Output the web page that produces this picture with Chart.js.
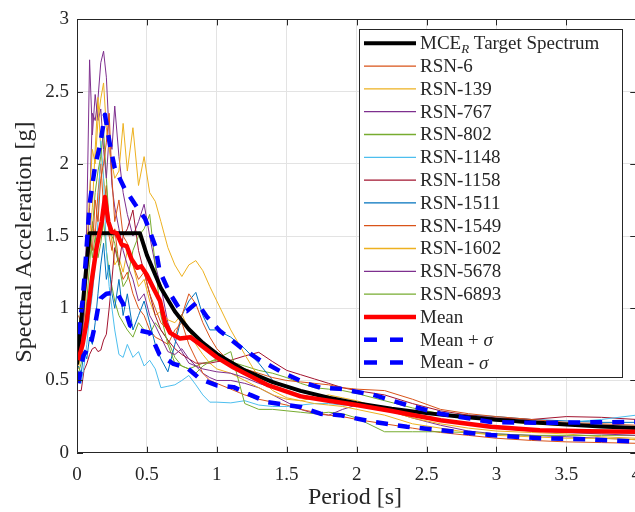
<!DOCTYPE html>
<html><head><meta charset="utf-8">
<script src="https://cdn.jsdelivr.net/npm/chart.js@4/dist/chart.umd.min.js"></script>
<style>html,body{margin:0;padding:0;overflow:hidden;background:#fff}</style>
</head><body>
<canvas id="c" width="652" height="512"></canvas>
<script>
// ---------- DATA ----------
const periods = [0.01,0.03,0.05,0.07,0.09,0.11,0.13,0.15,0.17,0.19,
  0.21,0.23,0.25,0.27,0.30,0.33,0.36,0.40,0.44,0.48,
  0.52,0.56,0.60,0.65,0.70,0.75,0.80,0.85,0.90,0.95,
  1.0,1.1,1.2,1.3,1.4,1.5,1.6,1.7,1.8,1.9,
  2.0,2.2,2.4,2.6,2.8,3.0,3.25,3.5,3.75,4.0];

const rsn6 = [0.95,0.9,1.1,1.3,1.5,1.4,1.75,1.6,1.9,2.0, 2.15,2.35,1.9,1.6,1.75,1.5,1.45,1.3,1.2,1.25, 1.1,1.0,0.9,0.85,0.8,0.95,1.1,1.03,0.9,0.8, 0.72,0.62,0.58,0.55,0.52,0.5,0.49,0.48,0.47,0.45, 0.44,0.43,0.37,0.3,0.27,0.25,0.23,0.21,0.2,0.19];
const rsn139 = [0.8,0.9,1.1,1.4,1.8,2.1,2.0,2.3,2.45,2.56, 2.25,2.1,2.0,1.9,1.95,2.28,1.95,2.25,1.85,2.05, 1.8,1.74,1.6,1.42,1.3,1.22,1.3,1.33,1.26,1.15, 1.05,0.85,0.68,0.52,0.43,0.38,0.36,0.34,0.33,0.32, 0.3,0.26,0.2,0.17,0.14,0.12,0.11,0.1,0.1,0.09];
const rsn767 = [0.62,0.75,0.95,1.6,2.72,2.2,2.48,2.3,2.38,2.1, 1.9,2.2,1.85,1.7,1.55,1.4,1.3,1.2,1.05,1.1, 0.95,0.88,0.8,0.7,0.68,0.72,0.65,0.6,0.58,0.57, 0.56,0.55,0.52,0.48,0.45,0.42,0.4,0.38,0.36,0.35, 0.34,0.3,0.26,0.22,0.2,0.17,0.15,0.14,0.13,0.12];
const rsn802 = [0.55,0.62,0.8,1.05,1.3,1.55,1.8,1.95,2.05,2.23, 1.9,1.6,1.5,1.45,1.3,1.15,1.2,1.4,1.5,1.55, 1.65,1.3,0.95,0.75,0.62,0.6,0.58,0.55,0.6,0.63, 0.65,0.7,0.34,0.3,0.3,0.29,0.28,0.27,0.28,0.27, 0.24,0.145,0.145,0.145,0.14,0.13,0.12,0.12,0.12,0.12];
const rsn1148 = [0.5,0.48,0.6,0.75,0.95,1.1,1.3,1.6,2.16,1.9, 1.4,1.15,1.0,0.85,0.68,0.66,0.75,0.66,0.7,0.6, 0.64,0.58,0.45,0.46,0.47,0.5,0.535,0.47,0.4,0.35, 0.35,0.345,0.36,0.33,0.32,0.32,0.33,0.34,0.34,0.33, 0.33,0.31,0.28,0.26,0.24,0.22,0.21,0.21,0.23,0.26];
const rsn1158 = [0.43,0.43,0.57,0.615,0.68,0.72,0.73,0.7,0.71,0.78, 0.82,1.0,1.2,1.42,1.3,1.5,1.55,1.68,1.4,1.25, 1.1,0.95,0.85,0.78,0.72,0.68,0.65,0.62,0.62,0.62, 0.63,0.64,0.67,0.695,0.63,0.57,0.54,0.51,0.48,0.45, 0.43,0.4,0.34,0.29,0.26,0.24,0.23,0.25,0.245,0.23];
const rsn1511 = [0.6,0.55,0.7,0.65,0.8,0.75,0.9,1.1,1.3,1.45, 1.2,1.3,1.1,1.0,1.2,0.95,1.1,0.85,0.95,1.05, 0.9,0.75,0.65,0.56,0.75,0.95,1.05,1.11,0.95,0.85, 0.85,0.8,0.72,0.62,0.5,0.45,0.42,0.4,0.37,0.35, 0.33,0.3,0.28,0.27,0.26,0.25,0.23,0.22,0.21,0.21];
const rsn1549 = [0.75,0.85,1.05,1.2,1.4,1.6,1.5,1.8,2.0,1.7, 1.85,1.5,1.4,1.55,1.3,1.2,1.25,1.1,1.0,0.95, 0.85,0.8,0.78,0.75,0.85,0.9,0.75,0.65,0.55,0.5, 0.48,0.44,0.4,0.37,0.35,0.33,0.3,0.28,0.26,0.25, 0.23,0.2,0.17,0.14,0.12,0.1,0.085,0.075,0.07,0.065];
const rsn1602 = [0.58,0.7,0.9,1.2,1.5,1.7,2.1,2.46,2.1,1.9, 1.75,1.6,1.45,1.3,1.35,1.25,1.4,1.3,1.15,1.2, 1.05,0.95,0.98,0.92,0.9,0.96,0.85,0.75,0.68,0.62, 0.58,0.55,0.5,0.45,0.4,0.37,0.36,0.38,0.4,0.38, 0.36,0.3,0.24,0.2,0.17,0.15,0.14,0.13,0.11,0.1];
const rsn5678 = [0.7,0.8,1.0,1.3,1.7,2.35,2.3,2.45,2.7,2.78, 2.6,2.2,2.1,2.4,2.05,1.8,1.65,1.5,1.6,1.72, 1.5,1.3,1.15,0.9,0.78,0.7,0.62,0.6,0.55,0.52, 0.5,0.5,0.48,0.45,0.4,0.35,0.3,0.27,0.26,0.3, 0.33,0.3,0.24,0.19,0.15,0.13,0.12,0.11,0.1,0.09];
const rsn6893 = [0.7,0.8,1.0,1.3,1.5,1.35,1.5,1.35,1.45,1.6, 1.4,1.25,1.15,1.05,0.95,0.9,0.85,0.8,0.9,0.85, 0.82,0.9,0.85,0.78,0.66,0.6,0.58,0.6,0.62,0.63, 0.64,0.63,0.6,0.57,0.55,0.52,0.48,0.45,0.44,0.43, 0.41,0.36,0.31,0.27,0.24,0.22,0.2,0.19,0.18,0.18];

const targetPeriods = [0,0.09,0.45,0.5,0.6,0.7,0.8,0.9,1.0,1.2,1.4,1.6,1.8,2.0,2.25,2.5,2.75,3.0,3.25,3.5,3.75,4.0];
const targetSa = [0.61,1.52,1.52,1.368,1.14,0.977,0.855,0.76,0.684,0.57,0.489,0.428,0.38,0.342,0.304,0.274,0.249,0.228,0.21,0.195,0.182,0.171];

const meanPeriods = [0.01,0.04,0.07,0.105,0.14,0.177,0.2,0.224,0.248,0.284,0.32,0.356,0.39,0.43,0.46,0.5,0.546,0.594,0.63,0.666,0.737,0.81,0.88,1.0,1.12,1.36,1.6,1.8,2.0,2.24,2.6,2.96,3.31,3.65,4.0];
const meanSa = [0.64,0.75,0.91,1.19,1.42,1.60,1.77,1.60,1.53,1.52,1.44,1.43,1.34,1.28,1.29,1.23,1.14,1.05,0.90,0.83,0.79,0.80,0.75,0.66,0.59,0.47,0.39,0.36,0.33,0.29,0.225,0.18,0.156,0.148,0.145];

const upperPeriods = [0.01,0.04,0.06,0.08,0.093,0.13,0.165,0.2,0.236,0.27,0.34,0.415,0.487,0.56,0.59,0.666,0.737,0.785,0.857,0.93,1.02,1.17,1.31,1.48,1.64,1.74,1.88,2.12,2.36,2.6,2.96,3.31,3.65,4.0];
const upperSa = [0.82,1.05,1.3,1.58,1.74,1.99,2.13,2.34,2.13,1.97,1.83,1.72,1.62,1.43,1.26,1.10,0.99,0.98,1.04,0.94,0.845,0.73,0.64,0.55,0.48,0.45,0.443,0.40,0.33,0.27,0.213,0.206,0.21,0.213];

const lowerPeriods = [0.01,0.045,0.07,0.105,0.13,0.15,0.17,0.21,0.284,0.33,0.38,0.45,0.52,0.59,0.69,0.785,0.88,1.0,1.12,1.24,1.36,1.6,1.74,1.88,2.12,2.36,2.6,2.96,3.31,3.67,4.0];
const lowerSa = [0.48,0.67,0.71,0.78,0.89,1.0,1.07,1.10,1.11,1.03,0.88,0.845,0.83,0.68,0.615,0.59,0.51,0.466,0.454,0.40,0.35,0.317,0.27,0.26,0.213,0.18,0.156,0.122,0.10,0.092,0.076];

const recordNames = ['RSN-6','RSN-139','RSN-767','RSN-802','RSN-1148','RSN-1158','RSN-1511','RSN-1549','RSN-1602','RSN-5678','RSN-6893'];
const recordValues = [rsn6,rsn139,rsn767,rsn802,rsn1148,rsn1158,rsn1511,rsn1549,rsn1602,rsn5678,rsn6893];
const xTicks = [0,0.5,1,1.5,2,2.5,3,3.5,4];
const yTicks = [0,0.5,1,1.5,2,2.5,3];

// ---------- STYLES ----------
const recordColors = ['#D95319','#EDB120','#7E2F8E','#77AC30','#4DBEEE','#A2142F','#0072BD','#D95319','#EDB120','#7E2F8E','#77AC30'];
const FONT = "'Liberation Serif', 'Times New Roman', serif";
const TXT = '#262626';

function pts(xs, ys){ return xs.map((x,i)=>({x:x, y:ys[i]})); }

const datasets = [];
datasets.push({label:'MCE_R Target Spectrum', parts:[['MCE','n'],['R','sub'],[' Target Spectrum','n']],
  data:pts(targetPeriods,targetSa), borderColor:'#000', borderWidth:4, legendWidth:4, order:5});
recordNames.forEach((n,i)=>{
  datasets.push({label:n, parts:[[n,'n']], data:pts(periods,recordValues[i]), borderColor:recordColors[i], borderWidth:1, legendWidth:1.3, order:10});
});
datasets.push({label:'Mean', parts:[['Mean','n']], data:pts(meanPeriods,meanSa), borderColor:'#FF0000', borderWidth:4.5, legendWidth:4.5, order:3});
datasets.push({label:'Mean + σ', parts:[['Mean + ','n'],['σ','i']], data:pts(upperPeriods,upperSa), borderColor:'#0000FF', borderWidth:4.5, legendWidth:4.5, borderDash:[12,10], legendDash:[13,13], order:1});
datasets.push({label:'Mean - σ', parts:[['Mean - ','n'],['σ','i']], data:pts(lowerPeriods,lowerSa), borderColor:'#0000FF', borderWidth:4.5, legendWidth:4.5, borderDash:[12,10], legendDash:[13,13], order:1});
datasets.forEach(d=>{ d.showLine=true; d.pointRadius=0; d.fill=false; d.tension=0; d.borderJoinStyle='round'; });

const frame = {
  id:'frame',
  afterDatasetsDraw(chart){
    const {ctx, chartArea:a, scales} = chart;
    ctx.save();
    ctx.strokeStyle = TXT; ctx.lineWidth = 1;
    ctx.beginPath();
    ctx.rect(Math.round(a.left)+0.5, Math.round(a.top)+0.5, Math.round(a.right-a.left), Math.round(a.bottom-a.top));
    const L=6;
    xTicks.forEach(v=>{ const x=Math.round(scales.x.getPixelForValue(v))+0.5;
      ctx.moveTo(x,a.bottom); ctx.lineTo(x,a.bottom-L); ctx.moveTo(x,a.top); ctx.lineTo(x,a.top+L); });
    yTicks.forEach(v=>{ const y=Math.round(scales.y.getPixelForValue(v))+0.5;
      ctx.moveTo(a.left,y); ctx.lineTo(a.left+L,y); ctx.moveTo(a.right,y); ctx.lineTo(a.right-L,y); });
    ctx.stroke();
    // axis titles
    ctx.fillStyle = TXT;
    ctx.font = "24px " + FONT;
    ctx.textAlign='center'; ctx.textBaseline='middle';
    ctx.fillText('Period [s]', 355, 498);
    ctx.translate(25, 242);
    ctx.rotate(-Math.PI/2);
    ctx.fillText('Spectral Acceleration [g]', 0, 0);
    ctx.restore();
  }
};

const legendPlugin = {
  id:'mleg',
  afterDraw(chart){
    const ctx = chart.ctx;
    ctx.save();
    const bx=359.5, by=29.5, bw=263, bh=348;
    ctx.fillStyle='#fff'; ctx.fillRect(bx,by,bw,bh);
    ctx.strokeStyle=TXT; ctx.lineWidth=1; ctx.strokeRect(bx,by,bw,bh);
    chart.data.datasets.forEach((ds,i)=>{
      const y = 43.3 + i*22.8;
      ctx.strokeStyle=ds.borderColor; ctx.lineWidth=ds.legendWidth;
      ctx.setLineDash(ds.legendDash||[]);
      ctx.beginPath(); ctx.moveTo(364,y); ctx.lineTo(416,y); ctx.stroke();
      ctx.setLineDash([]);
      let x = 420;
      ctx.fillStyle = TXT; ctx.textAlign='left'; ctx.textBaseline='middle';
      ds.parts.forEach(p=>{
        let f, dy=0;
        if(p[1]==='sub'){ f='italic 13px '+FONT; dy=5; }
        else if(p[1]==='i'){ f='italic 19px '+FONT; }
        else { f='19px '+FONT; }
        ctx.font=f;
        ctx.fillText(p[0], x, y+1+dy);
        x += ctx.measureText(p[0]).width;
      });
    });
    ctx.restore();
  }
};

new Chart(document.getElementById('c'), {
  type:'scatter',
  data:{datasets:datasets},
  options:{
    responsive:false, animation:false,
    layout:{padding:{left:0, top:16.5, right:0, bottom:0}},
    plugins:{legend:{display:false}, tooltip:{enabled:false}},
    scales:{
      x:{type:'linear', min:0, max:4,
        afterBuildTicks: s=>{ s.ticks = xTicks.map(v=>({value:v})); },
        afterFit: s=>{ s.height = 59.3; },
        ticks:{padding:11, color:TXT, font:{family:FONT, size:19}, maxRotation:0, callback:v=>String(v)},
        grid:{color:'#e3e3e3', drawTicks:false, lineWidth:1},
        border:{display:false}},
      y:{type:'linear', min:0, max:3,
        afterBuildTicks: s=>{ s.ticks = yTicks.map(v=>({value:v})); },
        afterFit: s=>{ s.width = 77; },
        ticks:{padding:8, color:TXT, font:{family:FONT, size:19}, callback:v=>String(v)},
        grid:{color:'#e3e3e3', drawTicks:false, lineWidth:1},
        border:{display:false}}
    }
  },
  plugins:[frame, legendPlugin]
});
</script>
</body></html>
